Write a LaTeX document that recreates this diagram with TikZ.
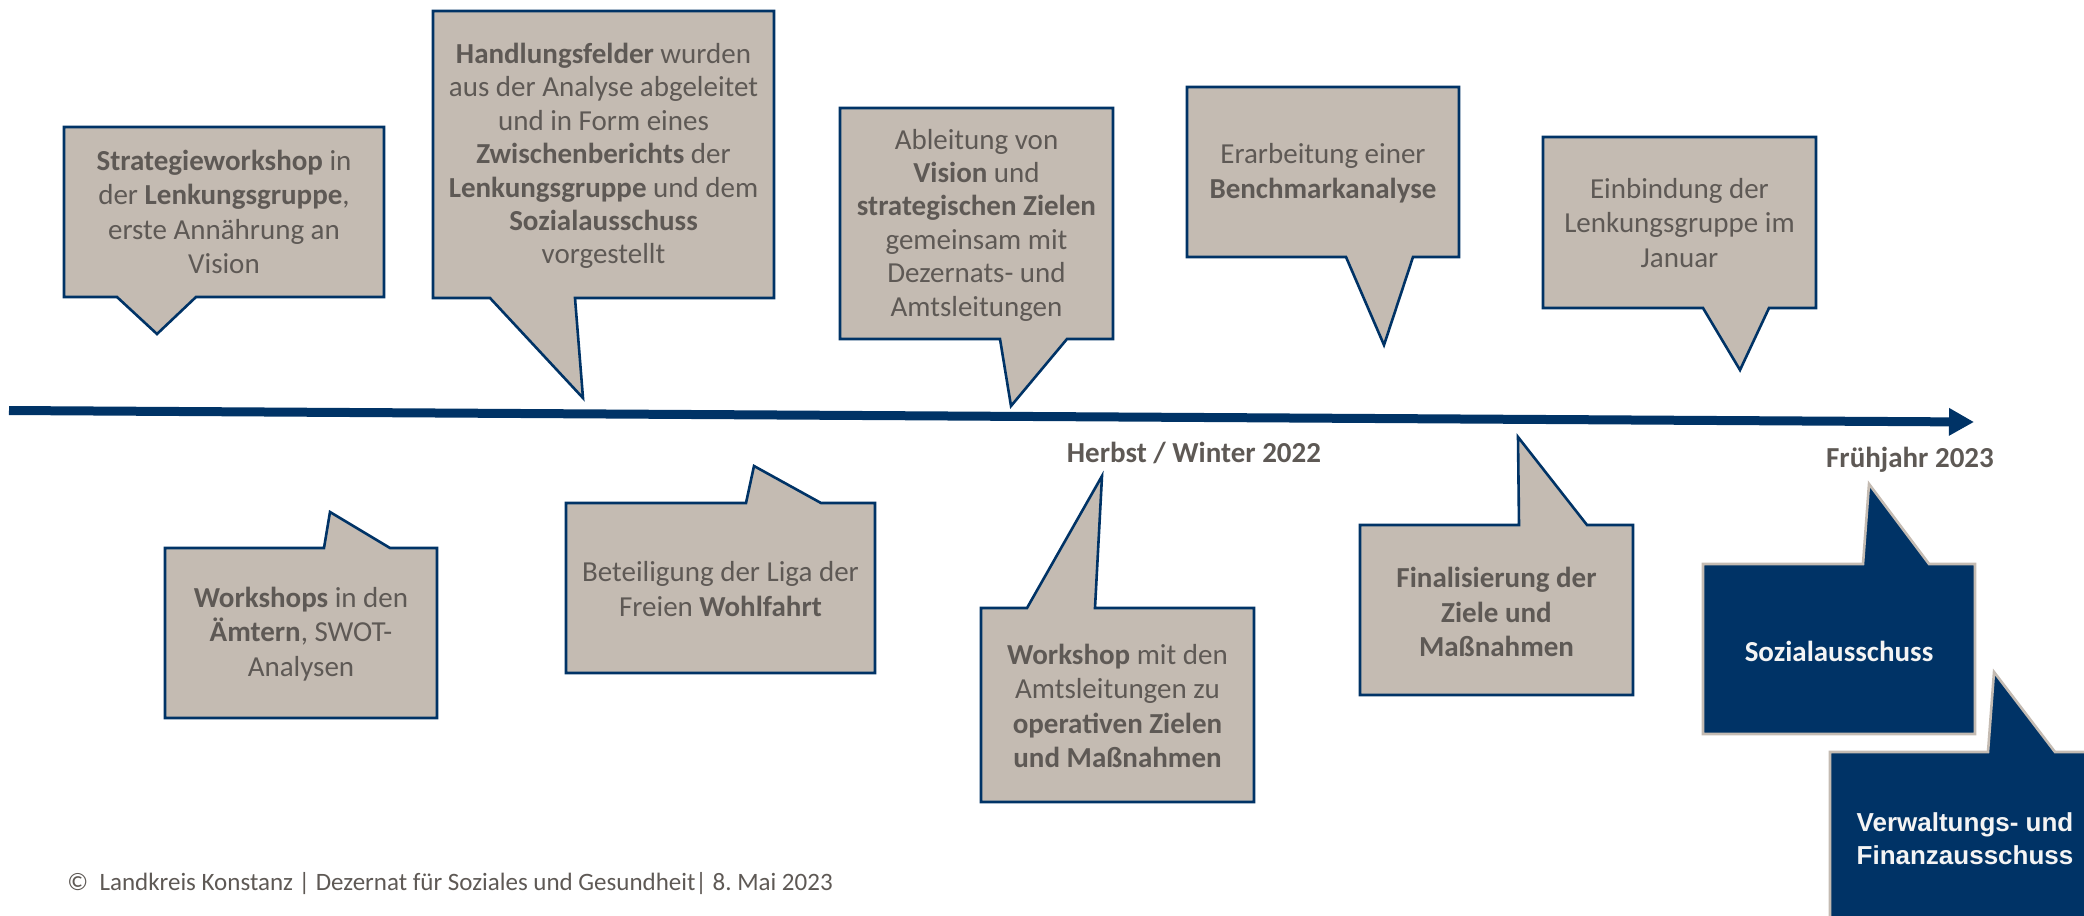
\documentclass[tikz,border=0pt]{standalone}
\usepackage{fontspec}
\setmainfont{Carlito}
\newfontfamily\arialfont{Liberation Sans}
\usetikzlibrary{arrows.meta}
\definecolor{navy}{RGB}{0,51,102}
\definecolor{beige}{RGB}{196,187,178}
\definecolor{txtgray}{RGB}{94,89,85}
\definecolor{offwhite}{RGB}{244,244,244}
\frenchspacing
\begin{document}
\begin{tikzpicture}[x=0.5pt,y=-0.5pt,
  bubble/.style={fill=beige,draw=navy,line width=1.3pt,line join=miter},
  darkbubble/.style={fill=navy,draw=beige,line width=1.3pt,line join=miter},
  lbl/.style={text=txtgray,align=center,inner sep=0pt,font=\fontsize{14.5pt}{17.3pt}\selectfont},
  tightlbl/.style={lbl,font=\fontsize{14.5pt}{16.7pt}\selectfont},
  dlbl/.style={text=offwhite,align=center,inner sep=0pt,font=\fontsize{14.5pt}{17.3pt}\selectfont\bfseries},
  alabel/.style={text=offwhite,align=center,inner sep=0pt,font=\arialfont\fontsize{13pt}{16.5pt}\selectfont\bfseries},
  datelbl/.style={text=txtgray,inner sep=0pt,font=\fontsize{14.5pt}{17.3pt}\selectfont\bfseries},
  timeline/.style={draw=navy,line width=4.5pt,-{Triangle[length=12.5pt,width=13pt]}}]
\useasboundingbox (0,0) rectangle (2084,916);
\clip (0,0) rectangle (2084,916);

% timeline
\coordinate (tlstart) at (9,410.5);
\coordinate (tlend) at (1974,422);
\draw[timeline] (tlstart) -- (tlend);

% top callouts (pointer down)
\draw[bubble] (64,127) -- (384,127) -- (384,297) -- (196,297) -- (157,334) -- (117,297) -- (64,297) -- cycle;
\node[lbl] (strat) at (224,212) {\textbf{Strategieworkshop} in\\der \textbf{Lenkungsgruppe},\\erste Annährung an\\Vision};

\draw[bubble] (433,11) -- (774,11) -- (774,298) -- (575,298) -- (583,398) -- (490,298) -- (433,298) -- cycle;
\node[tightlbl] (handl) at (603.5,156) {\textbf{Handlungsfelder} wurden\\aus der Analyse abgeleitet\\und in Form eines\\\textbf{Zwischenberichts} der\\\textbf{Lenkungsgruppe} und dem\\\textbf{Sozialausschuss}\\vorgestellt};

\draw[bubble] (840,108) -- (1113,108) -- (1113,339) -- (1067,339) -- (1011,406) -- (1000,339) -- (840,339) -- cycle;
\node[tightlbl] (ableit) at (976.5,225) {Ableitung von\\\textbf{Vision} und\\\textbf{strategischen Zielen}\\gemeinsam mit\\Dezernats- und\\Amtsleitungen};

\draw[bubble] (1187,87) -- (1459,87) -- (1459,257) -- (1413,257) -- (1384,345) -- (1346,257) -- (1187,257) -- cycle;
\node[lbl] (erarb) at (1323,173) {Erarbeitung einer\\\textbf{Benchmarkanalyse}};

\draw[bubble] (1543,137) -- (1816,137) -- (1816,308) -- (1769,308) -- (1740,370) -- (1703,308) -- (1543,308) -- cycle;
\node[lbl] (einb) at (1679.5,223) {Einbindung der\\Lenkungsgruppe im\\Januar};

% bottom callouts (pointer up)
\draw[bubble] (165,548) -- (324,548) -- (330,512) -- (390,548) -- (437,548) -- (437,718) -- (165,718) -- cycle;
\node[lbl] (wsaemter) at (301,634) {\textbf{Workshops} in den\\\textbf{Ämtern}, SWOT-\\Analysen};

\draw[bubble] (566,503) -- (746,503) -- (754,466) -- (821,503) -- (875,503) -- (875,673) -- (566,673) -- cycle;
\node[lbl] (liga) at (720.5,589) {Beteiligung der Liga der\\Freien \textbf{Wohlfahrt}};

\draw[bubble] (981,608) -- (1027,608) -- (1102,476) -- (1095,608) -- (1254,608) -- (1254,802) -- (981,802) -- cycle;
\node[lbl] (wsamt) at (1117.5,706) {\textbf{Workshop} mit den\\Amtsleitungen zu\\\textbf{operativen Zielen}\\\textbf{und Maßnahmen}};

\draw[bubble] (1360,525) -- (1519,525) -- (1518,437) -- (1587,525) -- (1633,525) -- (1633,695) -- (1360,695) -- cycle;
\node[lbl,font=\fontsize{14.5pt}{17.3pt}\selectfont\bfseries] (final) at (1496.5,612) {Finalisierung der\\Ziele und\\Maßnahmen};

\draw[darkbubble] (1703,564) -- (1863,564) -- (1869,484) -- (1929,564) -- (1975,564) -- (1975,734) -- (1703,734) -- cycle;
\node[dlbl] (sozial) at (1839,651) {Sozialausschuss};

\draw[darkbubble] (1830,752) -- (1988,752) -- (1994,672) -- (2055,752) -- (2102,752) -- (2102,930) -- (1830,930) -- cycle;
\node[alabel] (vfa) at (1965,839) {Verwaltungs- und\\Finanzausschuss};

% date labels
\node[datelbl] (herbst) at (1194,453) {Herbst / Winter 2022};
\node[datelbl] (fruehjahr) at (1910,460) {Frühjahr 2023};

% footer
\node[anchor=west,text=txtgray,inner sep=0pt,font=\fontsize{12.5pt}{15pt}\selectfont] (footer) at (67,884) {©~~Landkreis Konstanz | Dezernat für Soziales und Gesundheit| 8. Mai 2023};
\end{tikzpicture}
\end{document}
